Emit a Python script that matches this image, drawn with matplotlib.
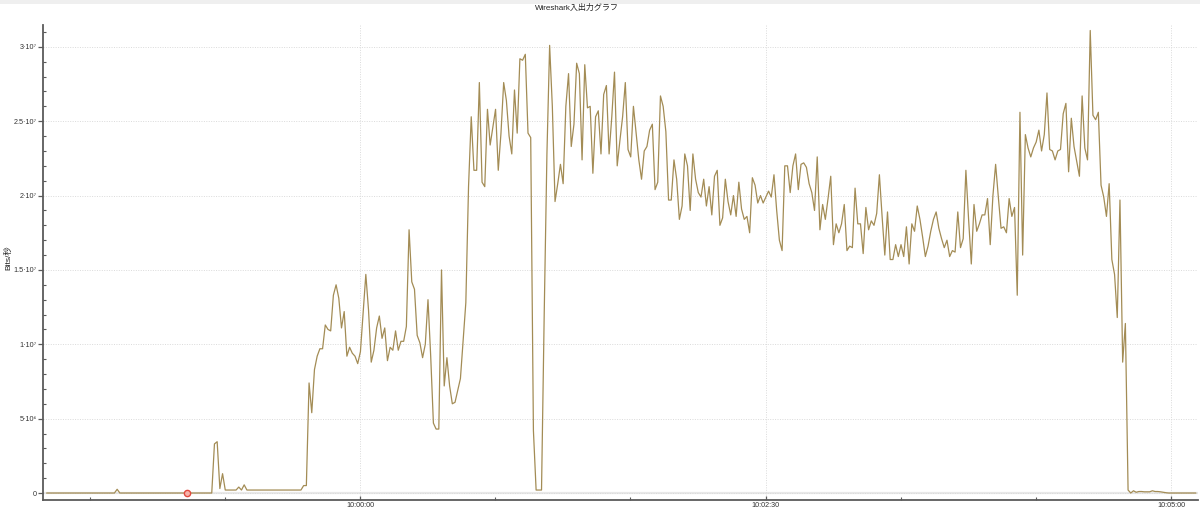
import numpy as np
import matplotlib
matplotlib.use("Agg")
import matplotlib.pyplot as plt
from matplotlib.ticker import FuncFormatter, MultipleLocator, FixedLocator
from matplotlib.patches import Rectangle

plt.rcParams['font.family'] = ['Liberation Sans Narrow', 'Liberation Sans', 'Noto Sans CJK JP', 'DejaVu Sans']

# ---------------- data ----------------
title = "Wireshark入出力グラフ"
y_label = "Bits/秒"
interval_s = 1.0               # IO graph interval
first_sample_s = -115.87       # seconds relative to 10:00:00
ref_hour, ref_min, ref_sec = 10, 0, 0

# throughput values in Mbit/s, one per interval
seg_idle = [0, 0, 0, 0, 0, 0, 0, 0, 0, 0, 0, 0, 0, 0, 0, 0, 0, 0, 0, 0, 0, 0, 0, 0, 0, 0,
            0.25,
            0, 0, 0, 0, 0, 0, 0, 0, 0, 0, 0, 0, 0, 0, 0, 0, 0, 0, 0, 0, 0, 0, 0, 0, 0, 0,
            0, 0, 0, 0, 0, 0, 0, 0, 0,
            3.3, 3.45, 0.3, 1.3, 0.2, 0.2, 0.2, 0.2, 0.2, 0.4, 0.2, 0.55,
            0.2, 0.2, 0.2, 0.2, 0.2, 0.2, 0.2, 0.2, 0.2, 0.2, 0.2, 0.2, 0.2, 0.2, 0.2,
            0.2, 0.2, 0.2, 0.2, 0.2, 0.2, 0.5, 0.5]
seg_rampup = [7.4, 5.4, 8.3, 9.2, 9.7, 9.7, 11.3, 11.0, 10.9, 13.3, 14.0, 13.1, 11.1, 12.2,
              9.2, 9.8, 9.4, 9.2, 8.7, 9.5, 12.1, 14.7, 12.3, 8.8, 9.6, 11.1, 11.9, 10.4,
              11.1, 8.9, 9.8, 9.6, 10.9, 9.6, 10.2, 10.2, 11.2, 17.7, 14.2, 13.7, 10.6,
              10.1, 9.1, 10.0, 13.0, 9.2, 4.7, 4.3, 4.3, 15.0, 7.2, 9.1, 7.2, 6.0]
seg_peak = [6.1, 6.9, 7.7, 10.3, 12.8, 20.6, 25.3, 21.7, 21.7, 27.6, 20.9, 20.6, 25.8, 23.4,
            24.6, 25.8, 21.7, 24.2, 27.6, 26.4, 24.0, 22.8, 27.1, 24.2, 29.2, 29.1, 29.5,
            24.2, 23.9, 4.2, 0.2, 0.2, 0.2, 12.1, 22.8, 30.1, 26.0, 19.6, 20.8, 22.1,
            20.8, 26.0, 28.2, 23.3, 24.8, 28.9, 28.2, 22.4, 28.8, 25.9, 26.0, 21.5, 25.3,
            25.7, 22.8, 26.8]
seg_decline = [27.4, 22.8, 25.3, 28.3, 22.0, 23.7, 25.3, 27.6, 23.1, 22.6, 26.0, 24.2, 22.4,
               21.1, 23.0, 23.3, 24.4, 24.8, 20.4, 20.9, 26.7, 26.0, 24.3, 19.7, 19.7,
               22.4, 21.1, 18.4, 19.3, 22.8, 22.0, 19.0, 22.8, 21.1, 20.2, 19.9, 21.1,
               19.3, 20.6, 18.7, 21.3, 21.7, 18.0, 18.5, 21.1, 19.6, 18.7, 20.0, 18.6,
               20.9, 19.1, 18.4, 18.6, 17.5, 21.2]
seg_plateau = [20.7, 19.5, 20.0, 19.5, 19.9, 20.3, 19.9, 21.4, 19.0, 17.0, 16.3, 22.0, 22.0,
               20.2, 22.0, 22.8, 20.4, 22.1, 22.2, 21.9, 20.8, 20.2, 19.0, 22.6, 17.7,
               19.4, 18.4, 19.8, 21.3, 16.7, 18.1, 17.5, 18.1, 19.4, 16.3, 16.6, 16.5,
               20.5, 18.1, 18.1, 16.1, 19.2, 17.7, 18.3, 18.0, 18.8, 21.4, 18.6, 16.0,
               18.9, 15.7, 15.7, 16.7, 15.9, 16.7, 15.9]
seg_low = [17.9, 15.4, 18.1, 17.6, 19.3, 18.4, 17.2, 15.9, 16.6, 17.6, 18.4, 18.9, 17.8,
           17.1, 16.5, 17.0, 15.9, 16.3, 16.2, 18.9, 16.5, 17.1, 21.7, 18.4, 15.4, 19.4,
           17.6, 18.1, 18.7, 18.7, 19.8, 16.7, 20.0, 22.1, 19.9, 17.8, 17.9, 17.5, 19.8,
           18.6, 19.2, 13.3, 25.6, 16.0, 24.1, 23.2, 22.6, 23.2, 23.6, 24.4, 23.0, 24.1,
           26.9, 23.1, 23.0]
seg_end = [22.4, 23.0, 23.1, 25.5, 26.2, 21.6, 25.2, 23.3, 22.3, 21.3, 26.7, 23.2, 22.4,
           31.1, 25.4, 25.1, 25.6, 20.7, 19.9, 18.6, 20.8, 15.7, 14.7, 11.8, 19.7, 8.8,
           11.4, 0.2, 0.0, 0.15, 0.05,
           0.1, 0.1, 0.08, 0.08, 0.08, 0.15, 0.1, 0.1, 0.08, 0.05, 0.02,
           0, 0, 0, 0, 0, 0, 0, 0, 0, 0, 0]

selected_index = 52   # red selected-packet marker

y_ticks = [0, 5e6, 1e7, 1.5e7, 2e7, 2.5e7, 3e7]
y_tick_labels = ["0", "5·10⁶", "1·10⁷", "1.5·10⁷", "2·10⁷", "2.5·10⁷", "3·10⁷"]
x_major_s = [0, 150, 300]
x_minor_step = 50

# ---------------- build ----------------
mbits = np.array(seg_idle + seg_rampup + seg_peak + seg_decline + seg_plateau + seg_low + seg_end)
bits = mbits * 1e6
times = first_sample_s + interval_s * np.arange(len(bits))

W, H = 1200, 509
fig = plt.figure(figsize=(W / 100, H / 100), dpi=100)
fig.patch.set_facecolor('white')
fig.patches.append(Rectangle((0, 1 - 4 / H), 1, 4 / H, transform=fig.transFigure,
                             facecolor='#efefef', edgecolor='none'))

ax = fig.add_axes([43 / W, 1 - 500 / H, (1198 - 43) / W, (500 - 25) / H])
ax.set_xlim(-117.3, 310.0)
ax.set_ylim(-0.47e6, 31.47e6)

ax.axhline(0, color='#e8e8e8', lw=1.6, zorder=0.5)
ax.plot(times, bits, color='#a38c55', lw=0.9, zorder=3)
ax.plot(times[selected_index], bits[selected_index], 'o', ms=4.5,
        mfc='#f6b4ac', mec='#e24a3e', mew=1.0, zorder=4)

def clock(v, pos=None):
    total = ref_hour * 3600 + ref_min * 60 + ref_sec + int(round(v))
    return f"{total // 3600:02d}:{(total % 3600) // 60:02d}:{total % 60:02d}"

ax.xaxis.set_major_locator(FixedLocator(x_major_s))
ax.xaxis.set_major_formatter(FuncFormatter(clock))
ax.xaxis.set_minor_locator(MultipleLocator(x_minor_step))
ax.yaxis.set_major_locator(FixedLocator(y_ticks))
ax.set_yticklabels(y_tick_labels)
ax.yaxis.set_minor_locator(MultipleLocator(1e6))

ax.grid(True, which='major', color='#dadada', linestyle=(0, (1, 1.5)), linewidth=0.7, zorder=0)
ax.set_axisbelow(True)

for s in ['top', 'right']:
    ax.spines[s].set_visible(False)
for s in ['left', 'bottom']:
    ax.spines[s].set_color('#5a5a5a')
    ax.spines[s].set_linewidth(1.3)

ax.tick_params(axis='y', which='major', direction='out', length=3.5, width=0.9, color='#5a5a5a',
               labelsize=5.2, labelcolor='#333333', pad=1)
ax.tick_params(axis='y', which='minor', direction='in', length=2, width=0.8, color='#5a5a5a')
ax.tick_params(axis='x', which='major', direction='in', length=3, width=0.9, color='#5a5a5a',
               labelsize=5.2, labelcolor='#333333', pad=1.2)
ax.tick_params(axis='x', which='minor', direction='in', length=2, width=0.8, color='#5a5a5a')

fig.text(577 / W, 1 - 8 / H, title, ha='center', va='center', fontsize=5.8, color='#222222')
fig.text(8 / W, 1 - 258 / H, y_label, ha='center', va='center', rotation=90,
         fontsize=6, color='#222222')

fig.savefig("out.png", dpi=100)
